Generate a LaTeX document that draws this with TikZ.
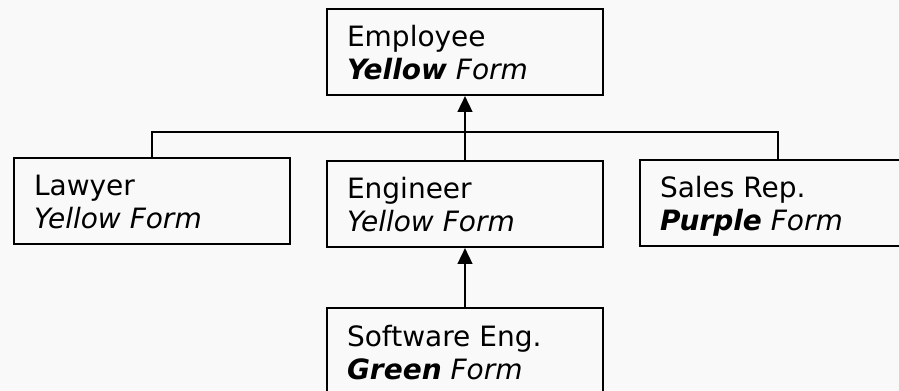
\documentclass[tikz,border=0pt]{standalone}
\usepackage{fontspec}
\setmainfont{DejaVu Sans}
\usetikzlibrary{arrows.meta}

\definecolor{mybackground}{RGB}{249,249,249}

% two lines of text, top aligned inside a box of fixed size
\newcommand{\formtext}[2]{%
  \parbox[c][64.5pt][t]{177pt}{\fontsize{21}{24.5}\selectfont
    \rule{0pt}{28.5pt}#1\\#2}}

\tikzset{
  form/.style={draw,line width=1.5pt,rectangle,inner xsep=15pt,inner ysep=0pt,
               minimum width=207.5pt,minimum height=64.5pt},
  link/.style={line width=1.3pt},
  isa/.style={line width=1.8pt,-{Triangle[length=12pt,width=11pt]}}
}

\begin{document}
\begin{tikzpicture}[x=0.75pt,y=-0.75pt]
  \fill[mybackground] (0,0) rectangle (899,391);
  \useasboundingbox (0,0) rectangle (899,391);

  \node[form] (emp)   at (465, 52.0) {\formtext{Employee}{\textbf{\textit{Yellow}} \textit{Form}}};
  \node[form] (law)   at (152,200.8) {\formtext{Lawyer}{\textit{Yellow Form}}};
  \node[form] (eng)   at (465,204.0) {\formtext{Engineer}{\textit{Yellow Form}}};
  \node[form] (sales) at (778,203.0) {\formtext{Sales Rep.}{\textbf{\textit{Purple}} \textit{Form}}};
  \node[form] (soft)  at (465,351.5) {\formtext{Software Eng.}{\textbf{\textit{Green}} \textit{Form}}};

  \draw[link] (law.north) -- ++(0,-25) -| (sales.north);
  \draw[isa] (eng.north) -- (emp.south);
  \draw[isa] (soft.north) -- (eng.south);
\end{tikzpicture}
\end{document}
